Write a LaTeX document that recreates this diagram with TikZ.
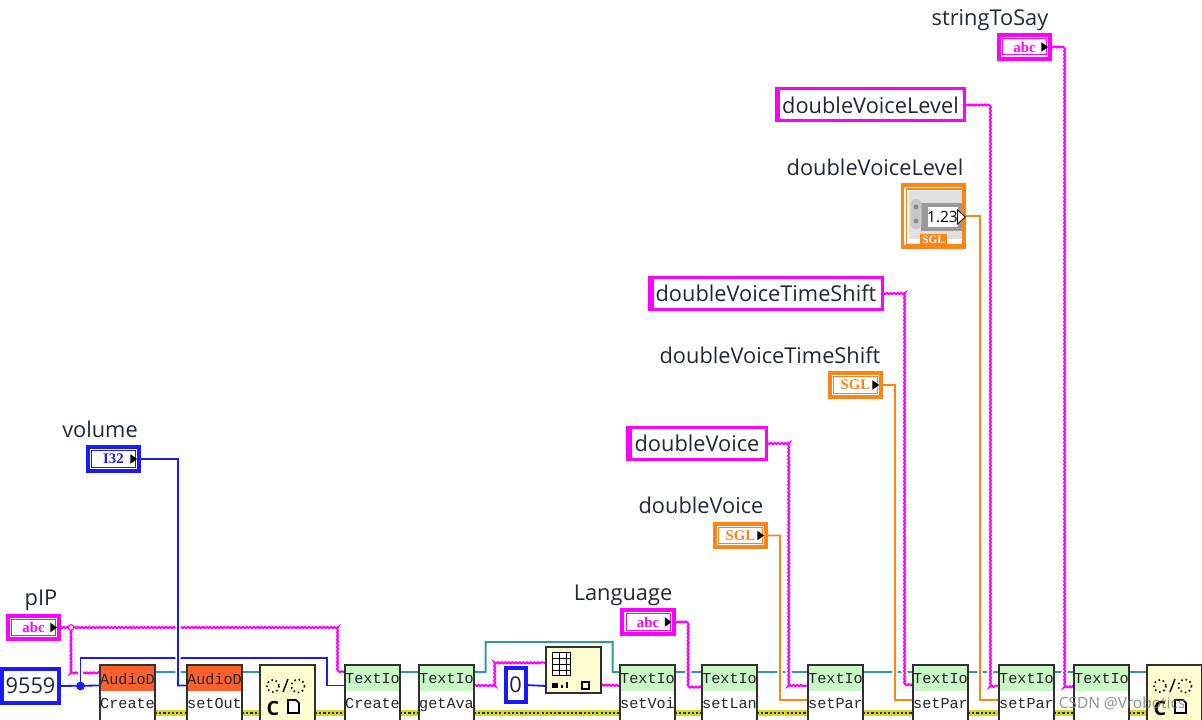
\documentclass[tikz,border=0pt]{standalone}
\usepackage{fontspec}
\setmainfont{Open Sans}
\setmonofont{Liberation Mono}
\newfontfamily\termfont{Liberation Serif}
\usetikzlibrary{decorations.pathmorphing,backgrounds}
\definecolor{wirepink}{HTML}{FF00FF}
\definecolor{wireblue}{HTML}{1A1AFF}
\definecolor{wireorange}{HTML}{FF8418}
\definecolor{wireteal}{HTML}{2F9C98}
\definecolor{errgold}{HTML}{D8D820}
\definecolor{audiohead}{HTML}{FF6030}
\definecolor{textiohead}{HTML}{C9F8C6}
\definecolor{calllemon}{HTML}{FFFFD2}
\definecolor{blockedge}{HTML}{303030}
\definecolor{labelink}{HTML}{202838}

\begin{document}
\begin{tikzpicture}[
    x=0.025cm, y=-0.025cm,
    every node/.style={outer sep=0pt, inner sep=0pt},
    caption/.style={font=\fontsize{15.5}{17}\selectfont, text=labelink},
    termbox/.style={draw=#1, line width=0.1cm, fill=white, minimum width=1.28cm, minimum height=0.58cm,
        text=#1, font=\termfont\bfseries\fontsize{10.5}{11}\selectfont},
    ctrlbox/.style={draw=wirepink, line width=0.075cm, fill=white, minimum height=0.8cm,
        font=\fontsize{15.5}{17}\selectfont, text=labelink},
    constbox/.style={draw=wireblue, line width=0.1cm, fill=white, text=labelink, minimum height=0.85cm,
        font=\fontsize{15.5}{16}\selectfont},
    block/.style={draw=blockedge, line width=0.05cm, fill=white, anchor=north west, minimum width=1.375cm,
        minimum height=1.6cm, align=center, text depth=0.3cm, font=\ttfamily\fontsize{10.8}{17.5}\selectfont, text=black!85,
        path picture={\fill[#1] (path picture bounding box.north west) rectangle
            ([yshift=-0.64cm]path picture bounding box.north east);}},
    callbox/.style={draw=blockedge, line width=0.05cm, fill=calllemon, anchor=north west, minimum width=1.375cm},
    strwire/.style={draw=wirepink, line width=0.05cm, decorate,
        decoration={snake, amplitude=0.4pt, segment length=2.6pt},
        preaction={draw=white, line width=0.13cm}},
    numwire/.style={line width=0.045cm, preaction={draw=white, line width=0.13cm}},
    intwire/.style={numwire, draw=wireblue},
    sglwire/.style={numwire, draw=wireorange},
    refwire/.style={draw=wireteal, line width=0.05cm},
    errwire/.style={draw=black!85, line width=0.07cm, dash pattern=on 1.5pt off 1.5pt,
        preaction={draw=errgold, solid, line width=0.14cm}},
]
\clip[use as bounding box] (0,0) rectangle (1202,720);

% Function blocks along the bottom
\node[block=audiohead] (audioCreate) at (100,665) {AudioD\\Create};
\node[block=audiohead] (audioSetOut) at (187,665) {AudioD\\setOut};
\node[callbox, minimum height=1.6cm] (callOpen) at (260,665) {};
\node[block=textiohead] (textCreate) at (345,665) {TextIo\\Create};
\node[block=textiohead] (textGetAva) at (419,665) {TextIo\\getAva};
\node[block=textiohead] (textSetVoi) at (620,665) {TextIo\\setVoi};
\node[block=textiohead] (textSetLan) at (702,665) {TextIo\\setLan};
\node[block=textiohead] (textParA) at (808,665) {TextIo\\setPar};
\node[block=textiohead] (textParB) at (913,665) {TextIo\\setPar};
\node[block=textiohead] (textParC) at (999,665) {TextIo\\setPar};
\node[block=textiohead] (textSay) at (1074,665) {TextIo\\\phantom{setPar}};
\node[callbox, minimum height=1.6cm] (callClose) at (1147,665) {};
\node[callbox, minimum height=1.15cm] (arrayIndex) at (546,647) {};

% Wire terminals of each block
\foreach \n in {audioCreate,audioSetOut,callOpen,textCreate,textGetAva,textSetVoi,textSetLan,textParA,textParB,textParC,textSay,callClose} {
    \coordinate (\n-tl) at ([yshift=-0.175cm]\n.north west);
    \coordinate (\n-tr) at ([yshift=-0.175cm]\n.north east);
    \coordinate (\n-ml) at ([yshift=-0.5125cm]\n.north west);
    \coordinate (\n-mr) at ([yshift=-0.5125cm]\n.north east);
    \coordinate (\n-ol) at ([yshift=-0.875cm]\n.north west);
    \coordinate (\n-el) at ([yshift=-1.2cm]\n.north west);
    \coordinate (\n-er) at ([yshift=-1.2cm]\n.north east);
}
\coordinate (arrayIndex-ml) at (546,686);
\coordinate (arrayIndex-mr) at (601,685);
\coordinate (arrayIndex-sl) at (546,663);

% Terminals and controls
\node[termbox=wirepink] (pIPterm) at (33.5,627.5) {abc};
\node[termbox=wireblue] (volumeTerm) at (113.5,459) {I32};
\node[termbox=wirepink] (langTerm) at (648,622) {abc};
\node[termbox=wireorange] (voiceTerm) at (740.5,535.5) {SGL};
\node[termbox=wireorange] (shiftTerm) at (855.5,385) {SGL};
\node[termbox=wirepink] (sayTerm) at (1024.5,47) {abc};
\node[ctrlbox, minimum width=4.72cm] (levelCtrl) at (870.5,105) {doubleVoiceLevel};
\node[ctrlbox, minimum width=5.8cm] (shiftCtrl) at (766,293.5) {doubleVoiceTimeShift};
\node[ctrlbox, minimum width=3.46cm] (voiceCtrl) at (697,443.5) {doubleVoice};
\node[constbox, minimum width=1.4cm] (ipConst) at (30.5,686) {9559};
\node[constbox, minimum width=0.5cm] (zeroConst) at (515.5,685) {0};
\node[draw=wireorange, line width=0.09cm, fill=white, minimum width=1.55cm, minimum height=1.55cm] (levelNum) at (933.5,216) {};
\node[circle, fill=wireblue, minimum size=0.22cm] (ipJoin) at (80.5,686) {};
\node[circle, draw=wirepink, line width=0.03cm, fill=white, minimum size=0.14cm] (pIPjoin) at (71,627.5) {};

% Captions
\node[caption] (pIPcap) at (41,600) {pIP};
\node[caption] (volumeCap) at (100,429) {volume};
\node[caption] (langCap) at (623,595) {Language};
\node[caption] (voiceCap) at (701,505) {doubleVoice};
\node[caption] (shiftCap) at (770,355) {doubleVoiceTimeShift};
\node[caption] (levelCap) at (875,167) {doubleVoiceLevel};
\node[caption] (sayCap) at (990,20) {stringToSay};

% Inner frame and arrow of the small terminals
\foreach \n/\c in {pIPterm/wirepink,volumeTerm/wireblue,langTerm/wirepink,voiceTerm/wireorange,shiftTerm/wireorange,sayTerm/wirepink} {
    \draw[\c, line width=0.025cm] ([xshift=0.09cm,yshift=-0.09cm]\n.north west) rectangle ([xshift=-0.09cm,yshift=0.09cm]\n.south east);
    \fill[black] ([xshift=-0.22cm,yshift=0.12cm]\n.east) -- ([xshift=-0.05cm]\n.east) -- ([xshift=-0.22cm,yshift=-0.12cm]\n.east) -- cycle;
}
% Heavy left side of the string controls
\foreach \n in {levelCtrl,shiftCtrl,voiceCtrl} {
    \fill[wirepink] (\n.north west) rectangle ([xshift=0.1cm]\n.south west);
}

% Numeric control face
\begin{scope}[shift={(levelNum.north west)}]
    \draw[wireorange, line width=0.03cm] (4,4) rectangle (60,60);
    \fill[black!12] (6,6) rectangle (59,54);
    \fill[black!40] (18,18) rectangle (59,46);
    \fill[black!22, rounded corners=0.12cm] (8,14) rectangle (19,44);
    \fill[black!45] (13.5,22) circle (2.5) (13.5,36) circle (2.5);
    \fill[white] (25,22) rectangle (55,42);
    \node[font=\fontsize{11}{12}\selectfont, text=black] (levelValue) at (40,32) {1.23};
    \draw[black, fill=white, line width=0.02cm] (55,25) -- (63,32) -- (55,39) -- cycle;
    \node[fill=wireorange, text=white, minimum width=0.67cm, minimum height=0.3cm,
        font=\termfont\bfseries\fontsize{8}{8}\selectfont] (levelType) at (31,55) {SGL};
\end{scope}

% Icons of the two call blocks
\foreach \n in {callOpen,callClose} {
    \begin{scope}[shift={(\n.north west)}]
        \draw[black, line width=0.04cm, dotted] (13,21) circle (6);
        \draw[black, line width=0.035cm] (23,27) -- (28,14);
        \draw[black, line width=0.04cm, dotted] (38,21) circle (6.5);
        \node[font=\bfseries\fontsize{14}{14}\selectfont, text=black] (\n-letter) at (13,43) {C};
        \draw[black, line width=0.04cm, fill=white] (28,35) -- (36,35) -- (39,38) -- (39,48) -- (28,48) -- cycle;
    \end{scope}
}

% Icon of the array block
\begin{scope}[shift={(arrayIndex.north west)}]
    \draw[black, line width=0.025cm, fill=white] (10,5) rectangle (24,28);
    \draw[black, line width=0.025cm, fill=white] (6,5) rectangle (20,28);
    \foreach \yy in {11,17,23} { \draw[black, line width=0.025cm] (6,\yy) -- (24,\yy); }
    \draw[black, line width=0.025cm] (13,5) -- (13,28);
    \fill[black] (6,36) rectangle (12,41);
    \fill[black] (15,38) rectangle (17,41);
    \fill[black] (20,35) rectangle (22,41);
    \draw[black, line width=0.04cm] (36,35) rectangle (43,42);
\end{scope}

\begin{pgfonlayer}{background}
% Error cluster and references
\foreach \a/\b in {audioCreate/audioSetOut,audioSetOut/callOpen,callOpen/textCreate,textCreate/textGetAva,textGetAva/textSetVoi,textSetVoi/textSetLan,textSetLan/textParA,textParA/textParB,textParB/textParC,textParC/textSay,textSay/callClose} {
    \draw[errwire] (\a-er) -- (\b-el);
}
\foreach \a/\b in {audioCreate/audioSetOut,audioSetOut/callOpen,textCreate/textGetAva,textSetVoi/textSetLan,textSetLan/textParA,textParA/textParB,textParB/textParC,textParC/textSay,textSay/callClose} {
    \draw[refwire] (\a-tr) -- (\b-tl);
}
\draw[refwire] (textGetAva-tr) -- ++(11.5,0) -- ++(0,-30) -| (612.5,672) -- (textSetVoi-tl);

% Wires in the lower left
\draw[strwire] (pIPterm.east) -| (337,671) -- (textCreate-tl);
\draw[strwire] (pIPjoin.south) |- (audioCreate-tl);
\draw[intwire] (ipConst.east) -- (audioCreate-ml);
\draw[intwire] (ipJoin.north) |- (327,658) |- (textCreate-ml);
\draw[intwire] (volumeTerm.east) -| (178,685.5) -- (audioSetOut-ml);

% Wires round the array block
\draw[strwire] (textGetAva-mr) -| (495,663) -- (arrayIndex-sl);
\draw[intwire] (zeroConst.east) -- (arrayIndex-ml);
\draw[strwire] (arrayIndex-mr) -- (textSetVoi-ml);

% Wires coming down from the top
\draw[strwire] (langTerm.east) -| (687,685.5) -- (textSetLan-ml);
\draw[sglwire] (voiceTerm.east) -| (780,700) -- (textParA-ol);
\draw[strwire] (voiceCtrl.east) -| (789,685.5) -- (textParA-ml);
\draw[sglwire] (shiftTerm.east) -| (895,700) -- (textParB-ol);
\draw[strwire] (shiftCtrl.east) -| (904,685.5) -- (textParB-ml);
\draw[sglwire] (levelNum.east) -| (980,700) -- (textParC-ol);
\draw[strwire] (levelCtrl.east) -| (989,685.5) -- (textParC-ml);
\draw[strwire] (sayTerm.east) -| (1064,685.5) -- (textSay-ml);
\end{pgfonlayer}

% Watermark
\node[font=\fontsize{11}{12}\selectfont, text=black!55, opacity=0.8] (watermark) at (1122,703) {CSDN @Vrobotics};
\end{tikzpicture}
\end{document}
